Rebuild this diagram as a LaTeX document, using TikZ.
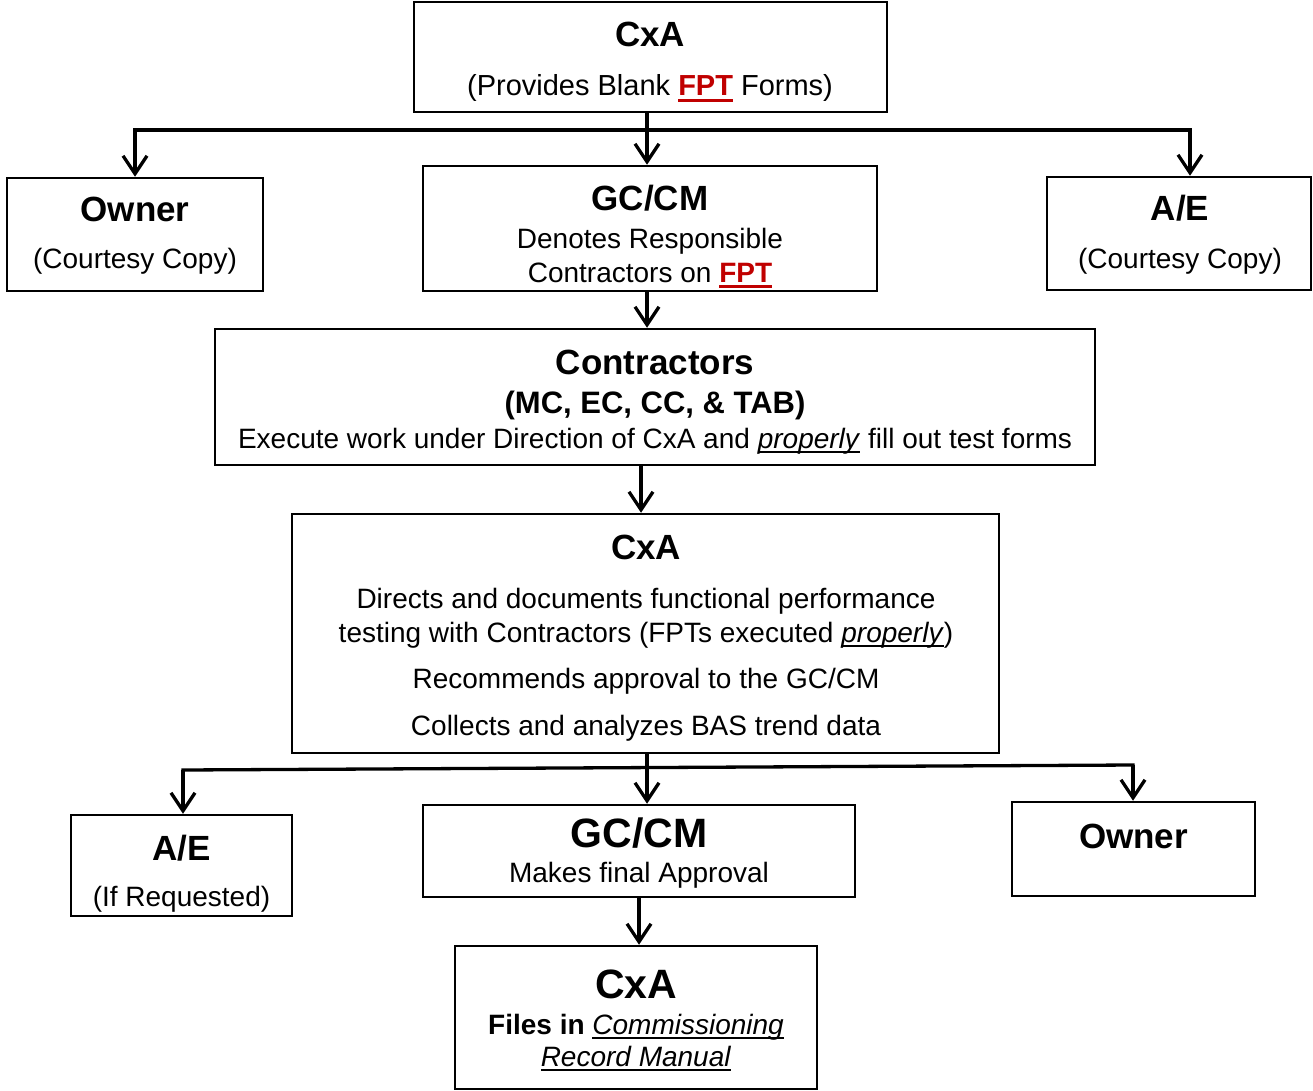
\documentclass[tikz,border=0pt]{standalone}
\usepackage{fontspec}
\setmainfont{Liberation Sans}
\usetikzlibrary{arrows.meta}
\definecolor{fptred}{HTML}{C00000}
\newsavebox{\ulsavebox}
\newcommand{\myul}[2]{\sbox{\ulsavebox}{#2}\rlap{\rule[-#1]{\wd\ulsavebox}{2.2pt}}\usebox{\ulsavebox}}
\newcommand{\fptmark}{\textcolor{fptred}{\myul{5.6pt}{\textbf{FPT}}}}
\newcommand{\propmark}{\myul{5pt}{\textit{properly}}}
\begin{document}
\begin{tikzpicture}[x=1pt,y=-1pt,
 box/.style={draw, line width=2.5pt, inner sep=0pt},
 arr/.style={line width=3.3pt, -{Straight Barb[length=18pt,width=24pt]}},
 hline/.style={line width=3.3pt, line cap=rect},
 ttl/.style={anchor=base, inner sep=0pt, font=\fontsize{35}{40}\selectfont\bfseries},
 bigttl/.style={anchor=base, inner sep=0pt, font=\fontsize{41}{46}\selectfont\bfseries},
 sub/.style={anchor=base, inner sep=0pt, font=\fontsize{31}{36}\selectfont\bfseries},
 txt/.style={anchor=base, inner sep=0pt, font=\fontsize{28}{32}\selectfont},
]
\useasboundingbox (0,0) rectangle (1313,1091);

% boxes
\node[box, minimum width=473pt, minimum height=110pt] (cxa1) at (650.5,57) {};
\node[box, minimum width=256pt, minimum height=113pt] (own1) at (135,234.5) {};
\node[box, minimum width=454pt, minimum height=125pt] (gc1) at (650,228.5) {};
\node[box, minimum width=264pt, minimum height=113pt] (ae1) at (1179,233.5) {};
\node[box, minimum width=880pt, minimum height=136pt] (con) at (655,397) {};
\node[box, minimum width=707pt, minimum height=239pt] (cxa2) at (645.5,633.5) {};
\node[box, minimum width=221pt, minimum height=101pt] (ae2) at (181.5,865.5) {};
\node[box, minimum width=432pt, minimum height=92pt] (gc2) at (639,851) {};
\node[box, minimum width=243pt, minimum height=94pt] (own2) at (1133.5,849) {};
\node[box, minimum width=362pt, minimum height=143pt] (cxa3) at (636,1017.5) {};

% texts
\node[ttl] (t1) at (650,47) {CxA};
\node[txt, font=\fontsize{29}{32}\selectfont] (t2) at (650,96) {(Provides Blank \fptmark{} Forms)};
\node[ttl] (t3) at (135,222) {Owner};
\node[txt] (t4) at (135,269) {(Courtesy Copy)};
\node[ttl] (t5) at (650,211) {GC/CM};
\node[txt] (t6) at (650,248) {Denotes Responsible};
\node[txt] (t7) at (650,282) {Contractors on \fptmark};
\node[ttl] (t8) at (1180,221) {A/E};
\node[txt] (t9) at (1180,268) {(Courtesy Copy)};
\node[ttl] (t10) at (655,374) {Contractors};
\node[sub] (t11) at (655,413) {(MC, EC, CC, \& TAB)};
\node[txt] (t12) at (655,448) {Execute work under Direction of CxA and \propmark{} fill out test forms};
\node[ttl] (t13) at (646,559) {CxA};
\node[txt] (t14) at (646,608) {Directs and documents functional performance};
\node[txt] (t15) at (646,642) {testing with Contractors (FPTs executed \propmark)};
\node[txt] (t16) at (646,688) {Recommends approval to the GC/CM};
\node[txt] (t17) at (646,735) {Collects and analyzes BAS trend data};
\node[ttl] (t18) at (181.5,860) {A/E};
\node[txt] (t19) at (181.5,906) {(If Requested)};
\node[bigttl] (t20) at (639,847) {GC/CM};
\node[txt] (t21) at (639,882) {Makes final Approval};
\node[ttl] (t22) at (1133.5,848) {Owner};
\node[bigttl] (t23) at (636,998) {CxA};
\node[txt] (t24) at (636,1034) {\textbf{Files in} \myul{5pt}{\textit{Commissioning}}};
\node[txt] (t25) at (636,1066) {\myul{5pt}{\textit{Record Manual}}};

% connector coordinates
\coordinate (v1) at (647,0);
\coordinate (v2) at (641,0);
\coordinate (v3) at (639,0);
\coordinate (hL) at (135,130);
\coordinate (hR) at (1190,130);
\coordinate (bL) at (183,770);
\coordinate (bR) at (1133,765);

% connectors
\draw[hline] (hL) -- (hR);
\draw[arr] (cxa1.south -| v1) -- (gc1.north -| v1);
\draw[arr] (hL) -- (own1.north -| hL);
\draw[arr] (hR) -- (ae1.north -| hR);
\draw[arr] (gc1.south -| v1) -- (con.north -| v1);
\draw[arr] (con.south -| v2) -- (cxa2.north -| v2);
\draw[hline] (bL) -- (bR);
\draw[arr] (cxa2.south -| v1) -- (gc2.north -| v1);
\draw[arr] (bL) -- (ae2.north -| bL);
\draw[arr] (bR) -- (own2.north -| bR);
\draw[arr] (gc2.south -| v3) -- (cxa3.north -| v3);
\end{tikzpicture}
\end{document}
